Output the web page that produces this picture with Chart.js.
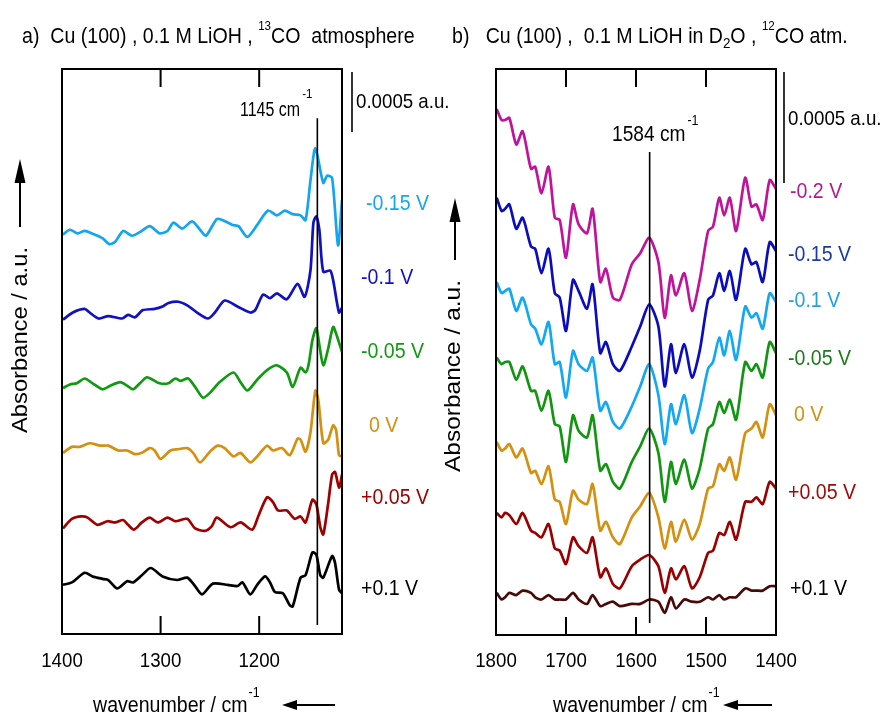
<!DOCTYPE html>
<html><head><meta charset="utf-8">
<script src="https://cdn.jsdelivr.net/npm/chart.js@4"></script>
<style>
html,body{margin:0;padding:0;background:#fff}
#wrap{position:relative;width:887px;height:717px;background:#fff}
canvas{position:absolute;left:0;top:0}
</style>
</head><body>
<div id="wrap"><canvas id="ca" width="887" height="717"></canvas><canvas id="cb" width="887" height="717"></canvas></div>
<script>
// ---------- Panel a: Cu(100), 0.1 M LiOH, 13CO (absorbance in 1e-5 a.u., offset stacked) ----------
const aTicks = [1400, 1300, 1200];
const aPotentials = ['-0.15 V', '-0.1 V', '-0.05 V', '0 V', '+0.05 V', '+0.1 V'];
const aWn_m015 = [1399,1392,1384,1377,1367,1359,1352,1346,1338,1329,1321,1311,1301,1293,1287,1278,1268,1260,1254,1243,1237,1227,1221,1212,1202,1191,1182,1174,1166,1158,1153,1148,1143,1135,1131,1126,1120,1116];
const aAbs_m015 = [333,337,334,336,333,330,325,327,336,332,335,340,334,336,343,338,344,337,332,346,345,341,340,331,341,353,349,353,350,349,345,378,405,376,382,380,324,362];
const aWn_m010 = [1399,1389,1377,1372,1363,1353,1339,1333,1326,1318,1306,1298,1292,1282,1273,1263,1252,1245,1235,1222,1209,1204,1196,1189,1182,1172,1161,1154,1148,1145,1142,1139,1135,1128,1125,1119,1116];
const aAbs_m010 = [262,268,271,268,263,265,263,266,264,270,271,273,276,277,274,268,263,268,278,273,268,270,283,280,284,279,292,281,303,343,348,337,302,303,295,268,272];
const aWn_m005 = [1399,1392,1385,1377,1369,1359,1351,1341,1334,1328,1321,1314,1308,1301,1292,1285,1280,1272,1265,1257,1250,1240,1226,1219,1212,1202,1192,1182,1172,1166,1158,1153,1150,1146,1142,1139,1135,1130,1125,1121,1116];
const aAbs_m005 = [205,208,209,213,209,204,207,210,207,204,209,214,212,209,209,213,211,213,206,197,201,210,218,210,203,212,220,224,218,206,222,218,224,245,255,241,224,238,256,248,235];
const aWn_0 = [1399,1390,1382,1372,1361,1353,1343,1334,1326,1319,1311,1306,1300,1290,1282,1273,1267,1260,1250,1242,1235,1226,1219,1209,1202,1192,1186,1177,1169,1161,1158,1153,1148,1143,1140,1135,1130,1125,1122,1119,1116];
const aAbs_0 = [151,156,156,159,157,157,153,153,150,151,155,153,146,153,154,155,151,143,152,157,155,148,151,143,148,157,153,155,149,163,162,152,168,203,195,159,162,174,170,149,148];
const aWn_p005 = [1399,1390,1380,1374,1364,1354,1346,1338,1333,1327,1319,1311,1303,1293,1285,1273,1265,1255,1248,1243,1229,1219,1207,1201,1192,1186,1181,1172,1164,1158,1153,1146,1142,1138,1135,1130,1126,1123,1119,1116];
const aAbs_p005 = [88,96,98,97,91,94,93,95,91,87,93,97,93,97,94,96,88,86,90,97,89,93,87,98,114,110,103,103,96,98,93,112,108,89,83,109,133,135,122,133];
const aWn_p010 = [1399,1390,1377,1369,1359,1353,1344,1334,1328,1319,1310,1298,1283,1273,1266,1258,1247,1232,1222,1217,1209,1202,1194,1189,1184,1176,1169,1166,1158,1153,1146,1142,1138,1135,1126,1123,1119,1116];
const aAbs_p010 = [41,43,51,48,46,45,38,44,43,49,55,48,45,47,41,33,42,41,40,43,33,41,48,43,35,34,24,23,47,49,68,66,49,47,65,59,37,34];

// ---------- Panel b: Cu(100), 0.1 M LiOH in D2O, 12CO ----------
const bTicks = [1800, 1700, 1600, 1500, 1400];
const bPotentials = ['-0.2 V', '-0.15 V', '-0.1 V', '-0.05 V', '0 V', '+0.05 V', '+0.1 V'];
const bWn = [1799,1792,1787,1781,1771,1762,1750,1744,1735,1725,1716,1709,1700,1690,1682,1670,1662,1651,1643,1633,1623,1606,1594,1581,1568,1559,1550,1543,1531,1520,1509,1497,1490,1481,1474,1466,1457,1444,1435,1428,1419,1409,1400];
const bAbs_m020 = [237,232,232,233,221,227,210,211,199,211,188,187,170,194,185,181,192,159,165,152,151,167,172,179,168,143,162,153,163,146,160,182,184,197,189,197,182,206,193,194,187,205,201];
const bAbs_m015 = [197,191,192,194,183,188,175,174,163,174,154,152,137,160,155,147,158,127,132,122,119,130,139,149,139,112,131,118,131,116,128,151,153,163,155,164,151,174,167,168,159,177,173];
const bAbs_m010 = [159,154,155,156,146,152,140,138,131,141,122,123,107,128,122,119,125,101,105,96,93,103,112,122,108,86,104,95,108,91,102,120,123,134,126,137,124,148,143,145,138,154,150];
const bAbs_m005 = [125,122,123,123,115,121,110,110,101,110,95,94,78,99,92,89,99,74,77,69,66,78,85,93,82,60,78,68,79,66,75,93,95,105,100,106,97,123,119,122,116,132,127];
const bAbs_0 = [87,83,84,86,80,84,73,74,68,76,61,60,50,65,61,59,68,47,51,44,41,53,58,64,53,39,51,42,52,43,50,66,67,77,74,80,70,91,93,96,89,104,99];
const bAbs_p005 = [55,53,55,54,50,55,47,46,44,50,39,38,32,44,40,37,44,26,30,23,21,31,34,36,31,19,30,25,31,21,26,37,38,46,45,51,43,60,60,62,59,69,66];
const bAbs_p010 = [19,16,17,19,18,20,19,17,16,18,16,16,16,19,16,14,18,13,14,15,13,14,14,16,15,10,17,12,16,15,15,17,16,18,16,17,17,21,20,20,20,22,22];

const scaleBarValue = 50; // 0.0005 a.u. in units of 1e-5
const markA = 1141, markB = 1580.5;

// ---------- helpers ----------
const FONT = '"Liberation Sans", Arial, Helvetica, sans-serif';
function txt(ctx, s, x, y, size, color, sx, align) {
  sx = sx || 1;
  ctx.save();
  ctx.font = size + 'px ' + FONT;
  ctx.fillStyle = color || '#000';
  ctx.textAlign = 'left'; ctx.textBaseline = 'alphabetic';
  const w = ctx.measureText(s).width * sx;
  let x0 = x;
  if (align === 'center') x0 = x - w / 2; else if (align === 'right') x0 = x - w;
  ctx.translate(x0, y); ctx.scale(sx, 1); ctx.fillText(s, 0, 0);
  ctx.restore();
  return w;
}
function seq(ctx, parts, x) {
  for (const p of parts) x += txt(ctx, p.t, x, p.y, p.s, p.c, p.sx);
  return x;
}
function fitText(ctx, s, x, y, size, width, color) {
  ctx.save(); ctx.font = size + 'px ' + FONT;
  const w = ctx.measureText(s).width; ctx.restore();
  return txt(ctx, s, x, y, size, color, width / w);
}
function arrow(ctx, x1, y1, x2, y2, headLen, headW) {
  const ang = Math.atan2(y2 - y1, x2 - x1);
  const bx = x2 - headLen * Math.cos(ang), by = y2 - headLen * Math.sin(ang);
  ctx.save(); ctx.strokeStyle = '#000'; ctx.fillStyle = '#000'; ctx.lineWidth = 2;
  ctx.beginPath(); ctx.moveTo(x1, y1); ctx.lineTo(bx, by); ctx.stroke();
  ctx.beginPath(); ctx.moveTo(x2, y2);
  ctx.lineTo(bx + headW / 2 * Math.sin(ang), by - headW / 2 * Math.cos(ang));
  ctx.lineTo(bx - headW / 2 * Math.sin(ang), by + headW / 2 * Math.cos(ang));
  ctx.closePath(); ctx.fill(); ctx.restore();
}
const pts = (xs, ys) => xs.map((x, i) => ({ x: x, y: ys[i] }));
const SX = 0.89;

function decor(cfg) {
  return {
    id: 'decor',
    afterDraw(chart) {
      const ctx = chart.ctx, ca = chart.chartArea, xs = chart.scales.x, ys = chart.scales.y;
      ctx.save();
      ctx.strokeStyle = '#000'; ctx.lineWidth = 2;
      ctx.strokeRect(ca.left, ca.top, ca.right - ca.left, ca.bottom - ca.top);
      cfg.ticks.forEach(t => {
        const x = xs.getPixelForValue(t);
        ctx.beginPath();
        ctx.moveTo(x, ca.top); ctx.lineTo(x, ca.top + 18);
        ctx.moveTo(x, ca.bottom); ctx.lineTo(x, ca.bottom - 18);
        ctx.stroke();
        txt(ctx, String(t), x, 667, 21, '#000', SX, 'center');
      });
      const mx = xs.getPixelForValue(cfg.mark.at);
      ctx.lineWidth = 1.6;
      ctx.beginPath(); ctx.moveTo(mx, ys.getPixelForValue(cfg.mark.from)); ctx.lineTo(mx, ys.getPixelForValue(cfg.mark.to)); ctx.stroke();
      cfg.mark.draw(ctx);
      const barLen = ys.getPixelForValue(0) - ys.getPixelForValue(scaleBarValue);
      ctx.lineWidth = 1.6;
      ctx.beginPath(); ctx.moveTo(cfg.bar.x, cfg.bar.y); ctx.lineTo(cfg.bar.x, cfg.bar.y + barLen); ctx.stroke();
      txt(ctx, '0.0005 a.u.', cfg.bar.tx, cfg.bar.ty, 21, '#000', SX);
      cfg.labels.forEach(l => txt(ctx, l.t, l.x, l.y, 22, l.c, SX));
      seq(ctx, cfg.title, cfg.titleX);
      let ex = seq(ctx, [{ t: 'wavenumber / cm', y: 712, s: 22, sx: SX }], cfg.xTitleX);
      txt(ctx, '-1', ex + 1, 697, 14, '#000', SX);
      arrow(ctx, cfg.xArrow[1], 705, cfg.xArrow[0], 705, 15, 10);
      ctx.save(); ctx.translate(cfg.yTitle.x, cfg.yTitle.cy); ctx.rotate(-Math.PI / 2);
      fitText(ctx, 'Absorbance / a.u.', -cfg.yTitle.w / 2, 0, 22, cfg.yTitle.w, '#000');
      ctx.restore();
      arrow(ctx, cfg.yArrow.x, cfg.yArrow.tail, cfg.yArrow.x, cfg.yArrow.tip, 24, 11);
      ctx.restore();
    }
  };
}

function makeChart(id, datasets, xmin, xmax, ymax, padding, cfg) {
  return new Chart(document.getElementById(id), {
    type: 'line',
    data: { datasets: datasets },
    options: {
      responsive: false, animation: false, devicePixelRatio: 1,
      layout: { padding: padding },
      scales: {
        x: { type: 'linear', reverse: true, min: xmin, max: xmax, display: false },
        y: { type: 'linear', min: 0, max: ymax, display: false }
      },
      plugins: { legend: { display: false }, tooltip: { enabled: false } },
      elements: { point: { radius: 0 }, line: { borderWidth: 2.7, tension: 0.25 } }
    },
    plugins: [decor(cfg)]
  });
}

const aColors = ['#13a6ef', '#1010c4', '#119a11', '#d4900e', '#a00000', '#000000'];
const aSeries = [[aWn_m015, aAbs_m015], [aWn_m010, aAbs_m010], [aWn_m005, aAbs_m005], [aWn_0, aAbs_0], [aWn_p005, aAbs_p005], [aWn_p010, aAbs_p010]];
const aLabelPos = [[366, 210], [361, 284], [361, 358], [369, 432], [361, 504], [361, 595]];
makeChart('ca', aSeries.map((s, i) => ({ label: aPotentials[i], data: pts(s[0], s[1]), borderColor: aColors[i], fill: false })),
  1116, 1400, 471, { left: 62, right: 545, top: 69, bottom: 83 }, {
  ticks: aTicks,
  mark: { at: markA, from: 430, to: 7.5, draw(ctx) {
    const e = txt(ctx, '1145 cm', 240, 116, 20, '#000', 0.8);
    txt(ctx, '-1', 240 + e + 2, 98, 13, '#000', SX);
  } },
  bar: { x: 352, y: 72, tx: 356, ty: 108 },
  labels: aPotentials.map((t, i) => ({ t: t, x: aLabelPos[i][0], y: aLabelPos[i][1], c: aColors[i] })),
  titleX: 22,
  title: [
    { t: 'a)  Cu (100) , 0.1 M LiOH , ', y: 43, s: 22, sx: SX },
    { t: '13', y: 30, s: 13, sx: SX },
    { t: 'CO  atmosphere', y: 43, s: 22, sx: SX }
  ],
  xTitleX: 93, xArrow: [282, 335],
  yTitle: { x: 27, cy: 340, w: 186 },
  yArrow: { x: 20, tail: 227, tip: 159 }
});

const bColors = ['#c0139c', '#0c0cbf', '#12a9f2', '#129612', '#d4900e', '#9b0000', '#4a0808'];
const bLabelColors = ['#b5188f', '#1c3aa6', '#22a0e0', '#1d7a1d', '#d4900e', '#a00a0a', '#000000'];
const bSeries = [bAbs_m020, bAbs_m015, bAbs_m010, bAbs_m005, bAbs_0, bAbs_p005, bAbs_p010];
const bLabelPos = [[790, 198], [788, 261], [788, 307], [788, 365], [794, 421], [788, 499], [790, 595]];
makeChart('cb', bSeries.map((s, i) => ({ label: bPotentials[i], data: pts(bWn, s), borderColor: bColors[i], fill: false })),
  1400, 1800, 255, { left: 496, right: 111, top: 69, bottom: 82 }, {
  ticks: bTicks,
  mark: { at: markB, from: 217.6, to: 5.4, draw(ctx) {
    const e = txt(ctx, '1584 cm', 612, 141, 22, '#000', 0.87);
    txt(ctx, '-1', 612 + e + 2, 125, 14, '#000', SX);
  } },
  bar: { x: 784, y: 72, tx: 788, ty: 125 },
  labels: bPotentials.map((t, i) => ({ t: t, x: bLabelPos[i][0], y: bLabelPos[i][1], c: bLabelColors[i] })),
  titleX: 452,
  title: [
    { t: 'b)   Cu (100) ,  0.1 M LiOH in D', y: 43, s: 22, sx: SX },
    { t: '2', y: 48, s: 15, sx: SX },
    { t: 'O , ', y: 43, s: 22, sx: SX },
    { t: '12', y: 30, s: 13, sx: SX },
    { t: 'CO atm.', y: 43, s: 22, sx: SX }
  ],
  xTitleX: 553, xArrow: [723, 772],
  yTitle: { x: 460, cy: 376, w: 192 },
  yArrow: { x: 455, tail: 260, tip: 198 }
});
</script>
</body></html>
